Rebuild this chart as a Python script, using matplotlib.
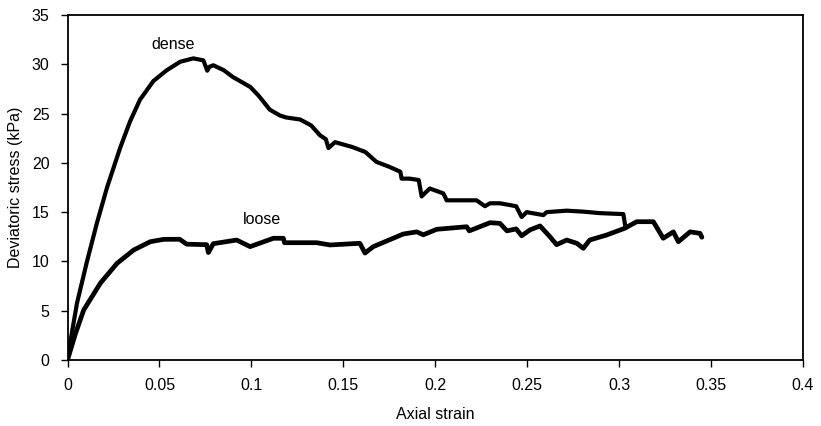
import matplotlib
matplotlib.use("Agg")
import matplotlib.pyplot as plt

plt.rcParams['font.family'] = ['Liberation Sans', 'DejaVu Sans']

dense_x = [0, 0.0026, 0.0052, 0.0106, 0.016, 0.0215, 0.0286, 0.034, 0.0394, 0.0467,
           0.054, 0.0612, 0.0684, 0.0739, 0.0760, 0.0772,
           0.0793, 0.085, 0.090, 0.0994,
           0.104, 0.110, 0.1156, 0.119, 0.1265, 0.1325, 0.1373, 0.1405, 0.1419, 0.1455,
           0.155, 0.162, 0.168, 0.175, 0.181, 0.1817, 0.186, 0.191, 0.1926, 0.197,
           0.2044, 0.2062, 0.2225, 0.227, 0.2298, 0.2352, 0.244, 0.247, 0.2497, 0.2588,
           0.2606, 0.2715, 0.2805, 0.2896, 0.3023, 0.3035]
dense_y = [0, 3.0, 5.8, 10.0, 13.9, 17.5, 21.5, 24.2, 26.4, 28.3,
           29.4, 30.25, 30.6, 30.4, 29.35, 29.75,
           29.9, 29.4, 28.7, 27.7,
           26.8, 25.4, 24.8, 24.6, 24.4, 23.8, 22.8, 22.4, 21.5, 22.1,
           21.6, 21.1, 20.1, 19.6, 19.1, 18.4, 18.4, 18.26, 16.6, 17.4,
           16.9, 16.2, 16.2, 15.6, 15.9, 15.9, 15.6, 14.5, 15.0, 14.7,
           15.0, 15.15, 15.05, 14.9, 14.8, 13.4]

loose_x = [0, 0.0042, 0.0088, 0.0179, 0.0269, 0.036, 0.045, 0.0523, 0.061, 0.0648,
           0.0757, 0.0766, 0.0793, 0.092, 0.0993, 0.112, 0.1174, 0.1180, 0.1355, 0.1428,
           0.159, 0.1618, 0.1663, 0.1826, 0.19, 0.1935, 0.2008, 0.2171, 0.2185, 0.2298,
           0.2352, 0.239, 0.244, 0.247, 0.2515, 0.257, 0.2624, 0.266, 0.2715, 0.277,
           0.2805, 0.284, 0.2932, 0.303, 0.3096, 0.3186, 0.324, 0.3295, 0.3322, 0.3386,
           0.344, 0.345]
loose_y = [0, 2.6, 5.07, 7.8, 9.8, 11.16, 12.0, 12.24, 12.25, 11.75,
           11.7, 10.9, 11.8, 12.17, 11.5, 12.35, 12.35, 11.9, 11.9, 11.67,
           11.84, 10.85, 11.5, 12.78, 13.0, 12.7, 13.26, 13.52, 13.1, 13.93,
           13.86, 13.1, 13.3, 12.6, 13.2, 13.6, 12.5, 11.7, 12.17, 11.84,
           11.33, 12.17, 12.68, 13.36, 14.03, 14.03, 12.35, 13.0, 12.0, 13.0,
           12.85, 12.45]

x_ticks = [0, 0.05, 0.1, 0.15, 0.2, 0.25, 0.3, 0.35, 0.4]
x_labels = ['0', '0.05', '0.1', '0.15', '0.2', '0.25', '0.3', '0.35', '0.4']
y_ticks = [0, 5, 10, 15, 20, 25, 30, 35]

fig = plt.figure(figsize=(8.21, 4.26), dpi=100)
ax = fig.add_axes([67.5 / 821, 1 - 360 / 426, (803 - 67.5) / 821, (360 - 15) / 426])

ax.plot(dense_x, dense_y, color='black', lw=3, solid_joinstyle='round', solid_capstyle='round')
ax.plot(loose_x, loose_y, color='black', lw=3.4, solid_joinstyle='round', solid_capstyle='round')

ax.set_xlim(0, 0.4)
ax.set_ylim(0, 35)
ax.set_xticks(x_ticks)
ax.set_xticklabels(x_labels)
ax.set_yticks(y_ticks)
ax.tick_params(direction='out', length=5, width=1, labelsize=11.5, pad=8, colors='black')
for s in ax.spines.values():
    s.set_linewidth(1.3)
    s.set_color('black')

ax.set_xlabel('Axial strain', fontsize=11.5, labelpad=10)
ax.set_ylabel('Deviatoric stress (kPa)', fontsize=11.5, labelpad=6)

ax.text(0.0574, 31.96, 'dense', fontsize=11.5, ha='center', va='center')
ax.text(0.1056, 14.3, 'loose', fontsize=11.5, ha='center', va='center')

fig.savefig('out.png', dpi=100)
